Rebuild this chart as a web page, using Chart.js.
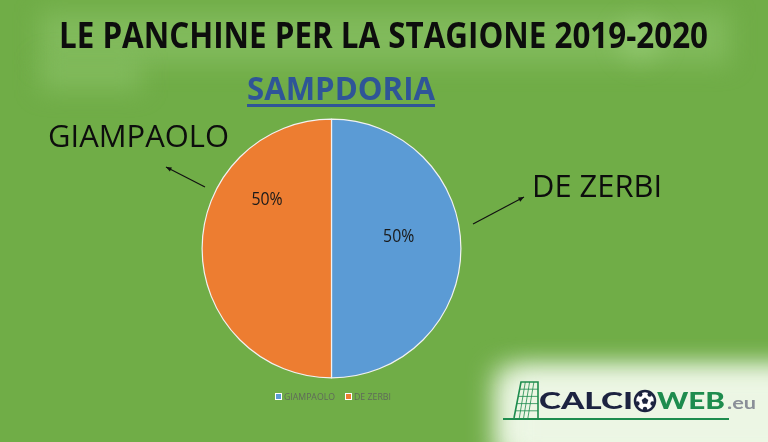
<!DOCTYPE html>
<html>
<head>
<meta charset="utf-8">
<script src="https://cdn.jsdelivr.net/npm/chart.js@4.4.1/dist/chart.umd.min.js"></script>
<style>
  html, body { margin: 0; padding: 0; background: #70ad47; }
  #wrap { position: relative; width: 768px; height: 442px; }
</style>
</head>
<body>
<div id="wrap"><canvas id="pieChart" width="768" height="442"></canvas></div>
<script>
// chart data
const coaches = ['GIAMPAOLO', 'DE ZERBI'];
const shares = [50, 50];
const sliceColors = ['#5b9bd5', '#ed7d31'];
const chartTitle = 'LE PANCHINE PER LA STAGIONE 2019-2020';
const teamName = 'SAMPDORIA';

// draw text squeezed/stretched to an exact width
function fitText(ctx, text, x, y, w, font, color) {
    ctx.save();
    ctx.font = font;
    ctx.fillStyle = color;
    ctx.textBaseline = 'alphabetic';
    ctx.textAlign = 'left';
    const m = ctx.measureText(text).width;
    ctx.translate(x, y);
    ctx.scale(w / m, 1);
    ctx.fillText(text, 0, 0);
    ctx.restore();
}

function arrow(ctx, x1, y1, x2, y2) {
    ctx.save();
    ctx.strokeStyle = '#111';
    ctx.fillStyle = '#111';
    ctx.lineWidth = 1.2;
    ctx.beginPath();
    ctx.moveTo(x1, y1);
    ctx.lineTo(x2, y2);
    ctx.stroke();
    const a = Math.atan2(y2 - y1, x2 - x1);
    ctx.beginPath();
    ctx.moveTo(x2, y2);
    ctx.lineTo(x2 - 6 * Math.cos(a - 0.4), y2 - 6 * Math.sin(a - 0.4));
    ctx.lineTo(x2 - 6 * Math.cos(a + 0.4), y2 - 6 * Math.sin(a + 0.4));
    ctx.closePath();
    ctx.fill();
    ctx.restore();
}

const backdrop = {
    id: 'backdrop',
    beforeDraw(chart) {
        const ctx = chart.ctx;
        ctx.save();
        ctx.fillStyle = '#70ad47';
        ctx.fillRect(0, 0, chart.width, chart.height);
        // soft light box behind the title
        ctx.filter = 'blur(12px)';
        ctx.fillStyle = 'rgba(140, 195, 105, 0.6)';
        ctx.fillRect(40, 12, 690, 52);
        ctx.fillRect(40, 60, 102, 30);
        ctx.fillStyle = 'rgba(180, 225, 150, 0.3)';
        ctx.beginPath();
        ctx.arc(640, 40, 22, 0, Math.PI * 2);
        ctx.fill();
        // white glow behind the logo
        ctx.filter = 'blur(14px)';
        ctx.fillStyle = 'rgba(236, 246, 228, 1)';
        ctx.fillRect(496, 370, 300, 90);
        ctx.fillRect(510, 370, 300, 90);
        ctx.restore();

        fitText(ctx, chartTitle, 59, 48, 649, 'bold 35px "Open Sans", sans-serif', '#0d0d0d');
        fitText(ctx, teamName, 247, 100, 188, 'bold 33px "Open Sans", sans-serif', '#2f5597');
        ctx.fillStyle = '#2f5597';
        ctx.fillRect(247, 104, 188, 3);

        fitText(ctx, coaches[0], 48, 147, 181, '31px "Open Sans", sans-serif', '#0d0d0d');
        fitText(ctx, coaches[1], 532, 197, 130, '31px "Open Sans", sans-serif', '#0d0d0d');
        arrow(ctx, 205, 187, 166, 167);
        arrow(ctx, 473, 224, 524, 197);
    },
    afterDraw(chart) {
        const ctx = chart.ctx;
        const meta = chart.getDatasetMeta(0);
        const total = shares.reduce((a, b) => a + b, 0);
        // percentage labels, placed like the Excel "best fit"
        const place = [[-0.173, 0.527], [0.643, 0.622]];
        meta.data.forEach((arc, i) => {
            const p = arc.getProps(['x', 'y', 'startAngle', 'endAngle', 'outerRadius'], true);
            const mid = (p.startAngle + p.endAngle) / 2 + place[i][0];
            const r = p.outerRadius * place[i][1];
            const pct = Math.round(shares[i] / total * 100) + '%';
            ctx.save();
            ctx.font = '18px "Open Sans", sans-serif';
            ctx.fillStyle = '#1a1a1a';
            ctx.textAlign = 'center';
            ctx.textBaseline = 'middle';
            ctx.translate(p.x + Math.cos(mid) * r, p.y + Math.sin(mid) * r);
            ctx.scale(0.88, 1);
            ctx.fillText(pct, 0, 0);
            ctx.restore();
        });

        // legend
        const legX = [276, 346];
        const legW = [51, 37];
        coaches.forEach((c, i) => {
            ctx.fillStyle = '#ffffff';
            ctx.fillRect(legX[i] - 1, 393, 7, 7);
            ctx.fillStyle = sliceColors[i];
            ctx.fillRect(legX[i], 394, 5, 5);
            fitText(ctx, c, legX[i] + 8, 400, legW[i], '9px "Open Sans", sans-serif', '#5f6a5a');
        });

        drawLogo(ctx);
    }
};

function drawLogo(ctx) {
    ctx.save();
    const green = '#1e8c4e';
    // goal net
    ctx.strokeStyle = green;
    ctx.lineWidth = 1.6;
    ctx.beginPath();
    ctx.moveTo(514, 418);
    ctx.lineTo(521, 382);
    ctx.lineTo(538, 382);
    ctx.lineTo(538, 418);
    ctx.stroke();
    ctx.lineWidth = 0.8;
    for (let k = 1; k < 5; k++) {
        const yy = 382 + k * 7.2;
        const xl = 521 - (yy - 382) * 7 / 36;
        ctx.beginPath(); ctx.moveTo(xl, yy); ctx.lineTo(538, yy); ctx.stroke();
    }
    for (let k = 1; k < 4; k++) {
        const xx = 521 + k * 4.3;
        ctx.beginPath(); ctx.moveTo(xx, 382); ctx.lineTo(xx - 6, 418); ctx.stroke();
    }
    // underline
    ctx.lineWidth = 2;
    ctx.beginPath(); ctx.moveTo(503, 419); ctx.lineTo(729, 419); ctx.stroke();
    ctx.restore();

    fitText(ctx, 'CALCI', 539, 409, 94, '900 23px Lato, sans-serif', '#1c2340');
    // ball
    ctx.save();
    ctx.fillStyle = '#ffffff';
    ctx.strokeStyle = '#1c2340';
    ctx.lineWidth = 2.5;
    ctx.beginPath(); ctx.arc(645, 401, 10, 0, Math.PI * 2); ctx.fill(); ctx.stroke();
    ctx.fillStyle = '#1c2340';
    ctx.beginPath();
    for (let k = 0; k < 5; k++) {
        const a = -Math.PI / 2 + k * 2 * Math.PI / 5;
        const px = 645 + Math.cos(a) * 3.5, py = 401 + Math.sin(a) * 3.5;
        if (k === 0) ctx.moveTo(px, py); else ctx.lineTo(px, py);
    }
    ctx.closePath(); ctx.fill();
    for (let k = 0; k < 5; k++) {
        const a = -Math.PI / 2 + k * 2 * Math.PI / 5 + Math.PI / 5;
        ctx.beginPath();
        ctx.arc(645 + Math.cos(a) * 8, 401 + Math.sin(a) * 8, 2.2, 0, Math.PI * 2);
        ctx.fill();
    }
    ctx.restore();
    fitText(ctx, 'WEB', 657, 409, 68, '900 23px Lato, sans-serif', '#1e8c4e');
    fitText(ctx, '.eu', 727, 409, 29, 'bold 17px Lato, sans-serif', '#8a8f98');
}

new Chart(document.getElementById('pieChart'), {
    type: 'pie',
    data: {
        labels: coaches,
        datasets: [{
            data: shares,
            backgroundColor: sliceColors,
            borderColor: '#f2f2f2',
            borderWidth: 1.2
        }]
    },
    options: {
        responsive: false,
        animation: false,
        layout: { padding: { left: 201.5, right: 306.5, top: 118.5, bottom: 63.5 } },
        plugins: {
            legend: { display: false },
            tooltip: { enabled: false }
        }
    },
    plugins: [backdrop]
});
</script>
</body>
</html>
